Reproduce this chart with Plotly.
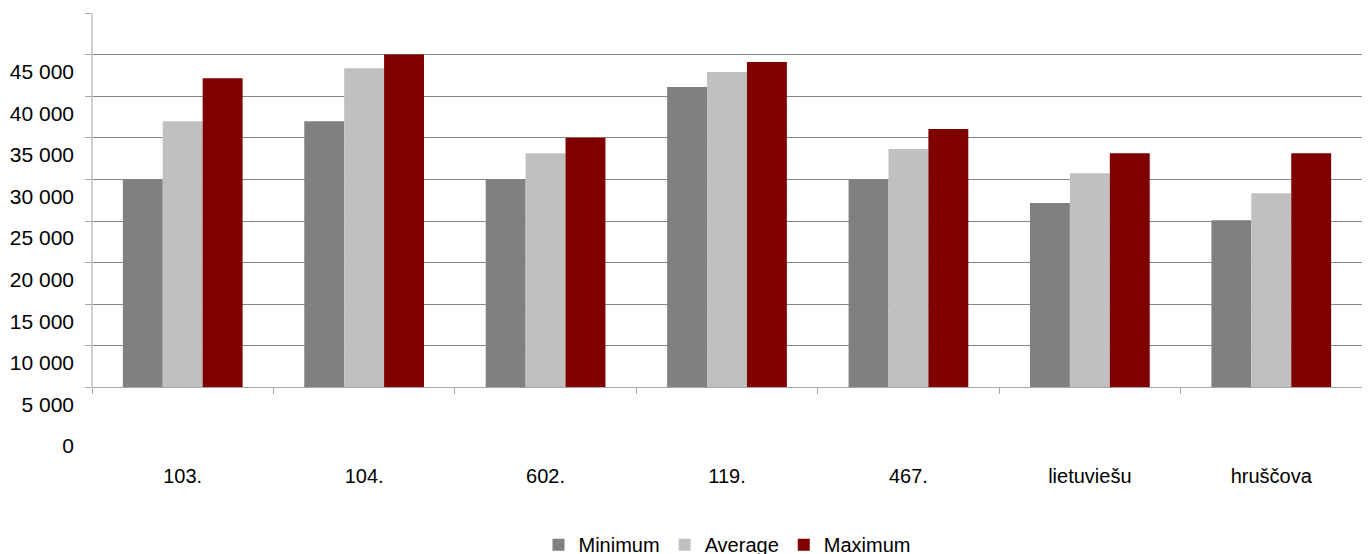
import plotly.graph_objects as go

categories = ["103.", "104.", "602.", "119.", "467.", "lietuviešu", "hruščova"]
minimum = [30000, 37000, 30000, 41100, 30000, 27150, 25100]
average = [37000, 43350, 33150, 42900, 33650, 30750, 28350]
maximum = [42150, 45000, 35000, 44100, 36050, 33150, 33150]
series_names = ["Minimum", "Average", "Maximum"]
series_colors = ["#808080", "#C0C0C0", "#800000"]

axis_cross = 5000
y_max = 50000
label_vals = list(range(0, 50000, 5000))
label_text = [f"{v:,}".replace(",", " ") for v in label_vals]
grid_vals = list(range(5000, 50001, 5000))

FONT = "Liberation Sans, Arial, sans-serif"

fig = go.Figure()
for name, vals, col in zip(series_names, [minimum, average, maximum], series_colors):
    fig.add_trace(go.Bar(
        name=name, x=categories, y=[v - axis_cross for v in vals], base=axis_cross,
        marker=dict(color=col, line=dict(width=0)),
        customdata=vals, hovertemplate="%{x}: %{customdata}<extra>" + name + "</extra>",
    ))

fig.update_layout(
    width=1362, height=546,
    margin=dict(l=84, r=8, t=5, b=125, autoexpand=False),
    paper_bgcolor="white", plot_bgcolor="white",
    font=dict(family=FONT, size=21, color="#000000"),
    barmode="group", bargap=0.34, bargroupgap=0,
    showlegend=True,
    legend=dict(orientation="h", x=0.5, xanchor="center", y=-0.278, yanchor="middle",
                font=dict(size=20), itemwidth=30, traceorder="normal"),
    xaxis=dict(
        type="category", anchor="free", position=axis_cross / y_max,
        showline=True, linecolor="#a6a6a6", linewidth=1,
        ticks="outside", ticklen=6, tickcolor="#a6a6a6", tickson="boundaries",
        ticklabelstandoff=71, showgrid=False, zeroline=False, automargin=False,
        tickfont=dict(size=20),
    ),
    yaxis=dict(
        range=[0, y_max], tickmode="array", tickvals=label_vals, ticktext=label_text,
        ticks="", showgrid=False, zeroline=False, showline=False, automargin=False,
        ticklabelshift=17, ticklabelstandoff=17,
        tickfont=dict(size=21),
        minor=dict(tickmode="array", tickvals=grid_vals, showgrid=True,
                   gridcolor="#878787", gridwidth=1,
                   ticks="outside", ticklen=6, tickcolor="#a6a6a6"),
    ),
    shapes=[dict(type="line", xref="paper", yref="y", x0=0, x1=0,
                 y0=axis_cross, y1=y_max, line=dict(color="#a6a6a6", width=1))],
)

fig.write_html("out.html")
